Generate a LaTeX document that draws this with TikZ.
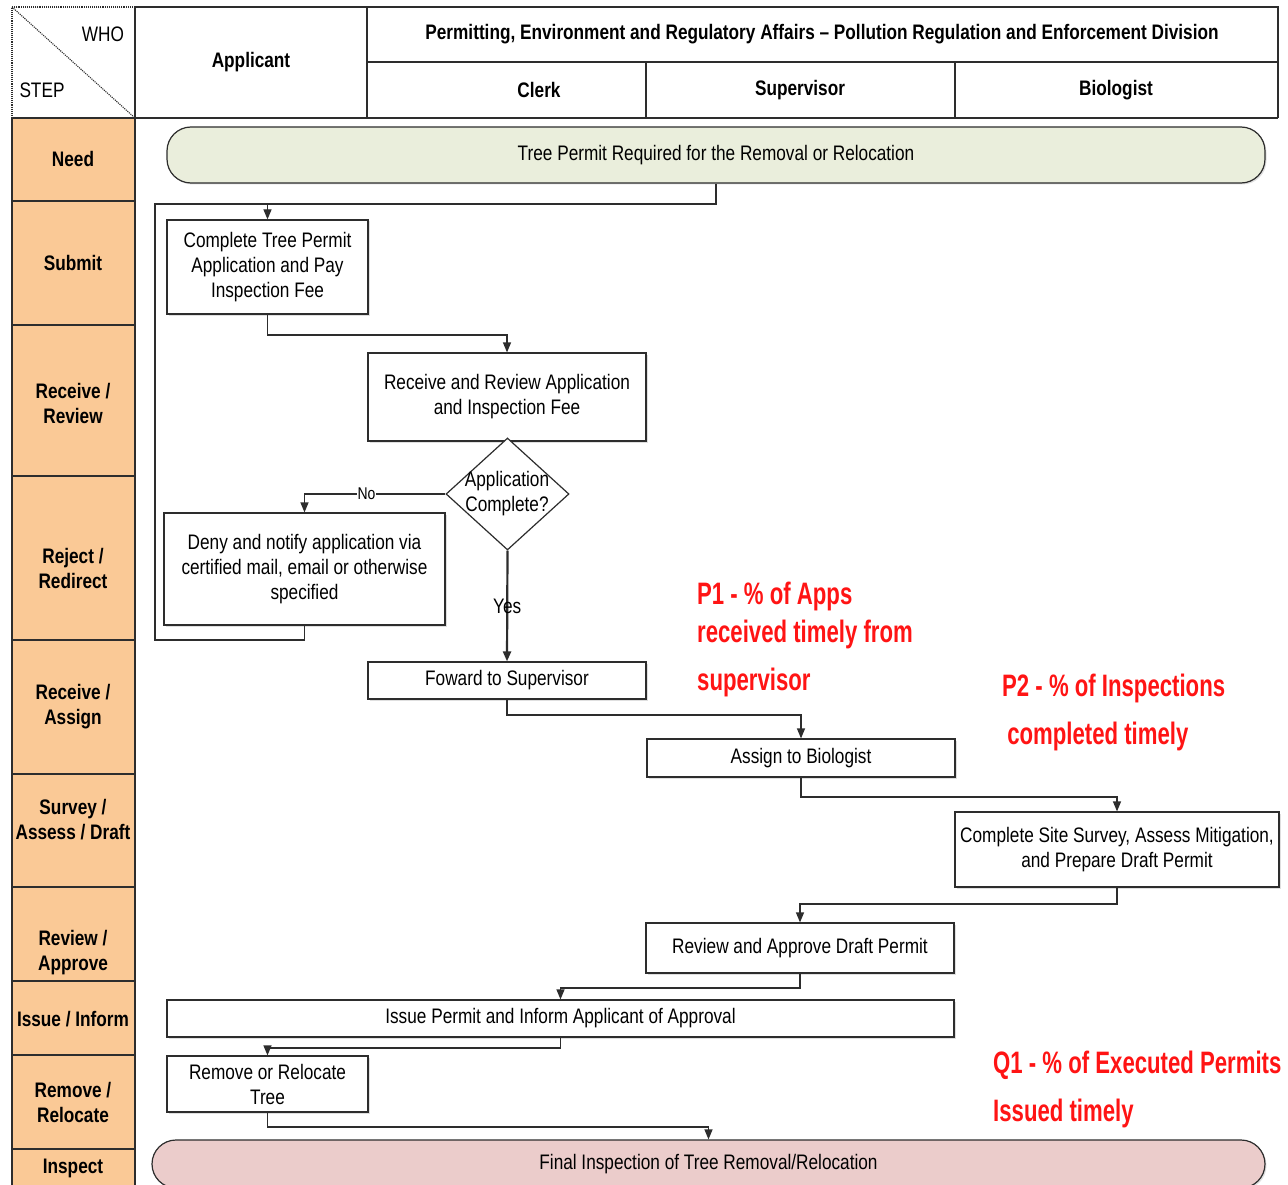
\documentclass[tikz,border=0pt]{standalone}
\usepackage{fontspec}
\setmainfont{Liberation Sans}[FakeStretch=0.82]
\newfontfamily\redfam{Liberation Sans}[FakeStretch=0.715]
\usetikzlibrary{shapes.geometric,arrows.meta,shadows}
\definecolor{orangefill}{RGB}{250,201,150}
\definecolor{greenfill}{RGB}{234,238,220}
\definecolor{pinkfill}{RGB}{235,204,203}
\definecolor{linec}{RGB}{45,45,45}
\definecolor{redtxt}{RGB}{255,20,20}
\newcommand\fBody{\fontsize{21}{25}\selectfont}
\newcommand\fSmall{\fontsize{17}{20}\selectfont}
\newcommand\fRed{\redfam\bfseries\fontsize{31}{48}\selectfont}
\begin{document}
\begin{tikzpicture}[x=1pt,y=-1pt,
 grid/.style={draw=linec, line width=1.4pt},
 box/.style={draw=linec, line width=1.2pt, fill=white, align=center, inner sep=2pt, font=\fBody,
   drop shadow={opacity=0.25, shadow xshift=1.5pt, shadow yshift=-1.5pt}},
 term/.style={box, rounded corners=24pt},
 ln/.style={draw=linec, line width=1.2pt},
 arr/.style={ln, -{Triangle[length=10pt,width=8pt]}},
 hdr/.style={font=\fBody\bfseries, align=center, inner sep=0pt},
 plain/.style={font=\fBody, align=center, inner sep=0pt},
 rowlab/.style={font=\fBody\bfseries, align=center, inner sep=0pt},
 redlab/.style={font=\fRed, text=redtxt, align=left, anchor=base west, inner sep=0pt},
]
\clip (0,0) rectangle (1288,1185);
\fill[white] (0,0) rectangle (1288,1185);

% ---------- header ----------
\draw[grid] (135,7) -- (1278,7) -- (1278,118);
\draw[grid] (367,7) -- (367,118);
\draw[grid] (367,62) -- (1278,62);
\draw[grid] (646,62) -- (646,118);
\draw[grid] (955,62) -- (955,118);
\draw[linec, line width=1.1pt, densely dotted] (135,7) -- (12,7) -- (12,118);
\draw[linec, line width=1.1pt, densely dotted] (12,7) -- (135,118);
\node[plain] (who) at (103,34) {WHO};
\node[plain] (stp) at (42,90) {STEP};
\node[hdr] (happ) at (251,62) {Applicant};
\node[hdr] (hdiv) at (822,34) {Permitting, Environment and Regulatory Affairs -- Pollution Regulation and Enforcement Division};
\node[hdr] (hclk) at (539,90) {Clerk};
\node[hdr] (hsup) at (800,90) {Supervisor};
\node[hdr] (hbio) at (1116,90) {Biologist};

% ---------- step column ----------
\fill[orangefill] (12,118) rectangle (135,1190);
\draw[grid] (12,118) -- (12,1190);
\draw[grid] (135,7) -- (135,1190);
\draw[grid] (12,118) -- (1278,118);
\foreach \yy in {201,325,476,640,774,887,981,1055,1149}
  \draw[grid] (12,\yy) -- (135,\yy);
\node[rowlab] (r1) at (73,159) {Need};
\node[rowlab] (r2) at (73,263) {Submit};
\node[rowlab] (r3) at (73,403) {Receive /\\Review};
\node[rowlab] (r4) at (73,568) {Reject /\\Redirect};
\node[rowlab] (r5) at (73,707) {Receive /\\Assign};
\node[rowlab] (r6) at (73,820) {Survey /\\Assess / Draft};
\node[rowlab] (r7) at (73,953) {Review /\\Approve};
\node[rowlab] (r8) at (73,1019) {Issue / Inform};
\node[rowlab] (r9) at (73,1102) {Remove /\\Relocate};
\node[rowlab] (r10) at (73,1168) {Inspect};

% ---------- flow nodes ----------
\node[term, fill=greenfill, minimum width=1098pt, minimum height=56pt] (top) at (716,155) {Tree Permit Required for the Removal or Relocation};
\node[box, minimum width=201pt, minimum height=94pt] (b1) at (267.5,267) {Complete Tree Permit\\Application and Pay\\Inspection Fee};
\node[box, minimum width=278pt, minimum height=88pt] (b2) at (507,397) {Receive and Review Application\\and Inspection Fee};
\node[draw=linec, line width=1.2pt, diamond, fill=white, minimum width=123pt, minimum height=112pt, inner sep=0pt] (dia) at (507.5,494) {};
\node[plain] (diat) at (507,494) {Application\\Complete?};
\node[box, minimum width=281pt, minimum height=112pt] (deny) at (304.5,569) {Deny and notify application via\\certified mail, email or otherwise\\specified};
\node[box, minimum width=278pt, minimum height=37pt] (fwd) at (507,680.5) {Foward to Supervisor};
\node[box, minimum width=308pt, minimum height=38pt] (asg) at (801,758) {Assign to Biologist};
\node[box, minimum width=324pt, minimum height=75pt] (site) at (1117,849.5) {Complete Site Survey, Assess Mitigation,\\and Prepare Draft Permit};
\node[box, minimum width=308pt, minimum height=50pt] (rev) at (800,948) {Review and Approve Draft Permit};
\node[box, minimum width=787pt, minimum height=37pt] (issue) at (560.5,1018.5) {Issue Permit and Inform Applicant of Approval};
\node[box, minimum width=201pt, minimum height=56pt] (remove) at (267.5,1084) {Remove or Relocate\\Tree};
\node[term, fill=pinkfill, minimum width=1113pt, minimum height=48pt] (final) at (708.5,1164) {Final Inspection of Tree Removal/Relocation};

% ---------- junctions ----------
\coordinate (j1) at (267.5,204);
\coordinate (k1) at (155,640);
\coordinate (j2) at (507,335);
\coordinate (j3) at (801,715);
\coordinate (j4) at (1117,797);
\coordinate (j5) at (800,904);
\coordinate (j6) at (560.5,988);
\coordinate (j7) at (267.5,1048);
\coordinate (j8) at (708.5,1127);

% ---------- connectors ----------
\draw[ln] (deny.south) |- (k1) |- (j1);
\draw[arr] (top.south) |- (j1) -- (b1.north);
\draw[arr] (b1.south) |- (j2) -- (b2.north);
\draw[arr] (dia.west) -| (deny.north) node[pos=0.28, fill=white, inner sep=1pt, font=\fSmall] (nolab) {No};
\draw[arr, line width=2.2pt] (dia.south) -- (fwd.north) node[pos=0.5, font=\fBody, inner sep=0pt] (yeslab) {Yes};
\draw[arr] (fwd.south) |- (j3) -- (asg.north);
\draw[arr] (asg.south) |- (j4) -- (site.north);
\draw[arr] (site.south) |- (j5) -- (rev.north);
\draw[arr] (rev.south) |- (j6) -- (issue.north);
\draw[arr] (issue.south) |- (j7) -- (remove.north);
\draw[arr] (remove.south) |- (j8) -- (final.north);

% ---------- measures (anchored at the baseline of the last line) ----------
\node[redlab] (p1) at (697,690) {P1 - \% of Apps\\[-10pt]received timely from\\supervisor};
\node[redlab] (p2) at (1002,744) {P2 - \% of Inspections\\\,completed timely};
\node[redlab] (q1) at (993,1121) {Q1 - \% of Executed Permits\\Issued timely};
\end{tikzpicture}
\end{document}
